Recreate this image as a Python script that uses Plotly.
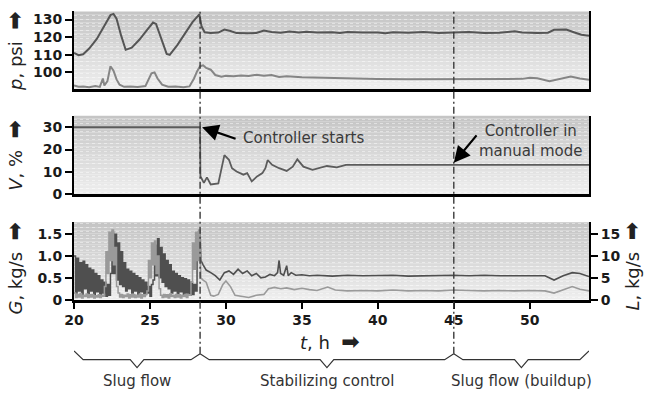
import plotly.graph_objects as go

# ---------------- data ----------------
# Riser pressures (psi)
t_p_up = [20.0, 20.3, 20.6, 21.0, 21.5, 22.0, 22.4, 22.6, 22.8, 23.1, 23.4, 23.8, 24.3, 24.8,
          25.2, 25.4, 25.7, 26.1, 26.3, 26.8, 27.3, 27.8, 28.25, 28.4, 28.6, 29.0, 29.5, 29.9,
          30.3, 30.7, 31.5, 32.0, 32.5, 33.0, 33.6, 34.2, 34.8, 35.3, 36.0, 37.0, 37.5, 38.0,
          39.0, 40.0, 40.5, 41.0, 42.0, 43.0, 44.0, 45.0, 46.0, 47.0, 48.0, 49.0, 49.5, 50.5,
          51.2, 51.6, 52.4, 52.9, 53.4, 53.9]
p_upper = [111.0, 109.8, 110.3, 113.5, 119.0, 126.5, 132.5, 133.2, 130.5, 121.0, 112.8, 114.0,
           118.5, 124.0, 128.3, 127.5, 120.0, 110.5, 110.0, 115.5, 122.0, 128.5, 133.0, 126.0,
           122.8, 122.3, 122.6, 124.3, 123.5, 122.3, 122.2, 122.4, 123.8, 122.9, 122.5, 123.2,
           122.6, 123.0, 122.6, 122.8, 122.3, 122.9, 122.6, 122.7, 122.2, 122.8, 122.5, 122.9,
           122.4, 122.5, 122.9, 122.4, 122.5, 123.3, 122.6, 122.4, 122.5, 124.2, 124.3, 122.8,
           121.4, 120.8]

t_p_lo = [20.0, 20.3, 20.6, 21.0, 21.4, 21.7, 21.9, 22.0, 22.2, 22.4, 22.6, 22.8, 23.0, 23.3,
          23.7, 24.2, 24.7, 24.9, 25.1, 25.3, 25.5, 25.8, 26.2, 26.7, 27.2, 27.6, 27.9, 28.1,
          28.3, 28.5, 28.7, 29.0, 29.3, 29.7, 30.0, 30.5, 31.0, 31.5, 32.0, 32.5, 33.0, 33.5,
          34.0, 35.0, 36.0, 37.0, 38.0, 40.0, 42.0, 45.0, 48.0, 49.5, 50.0, 50.5, 51.3, 52.0,
          52.7, 53.3, 53.9]
p_lower = [92.5, 91.8, 92.0, 91.6, 92.2, 91.7, 96.5, 92.5, 95.0, 103.5, 101.0, 96.0, 93.0, 91.8,
           92.0, 91.7, 92.2, 96.0, 99.5, 100.0, 96.5, 93.0, 91.8, 92.0, 91.6, 92.0, 96.5, 100.5,
           103.5, 104.0, 102.5, 101.5, 98.5, 97.5, 98.0, 97.8, 98.2, 98.0, 98.6, 98.1, 98.5, 97.4,
           97.8, 97.2, 97.0, 96.6, 96.3, 96.2, 96.1, 96.1, 96.1, 96.3, 96.9, 96.7, 95.0, 96.5,
           97.6, 96.5, 95.8]

# Choke valve opening (%)
t_v = [20.0, 28.3, 28.32, 28.55, 28.75, 29.0, 29.5, 29.75, 29.9, 30.2, 30.4, 30.7, 31.15, 31.4,
       31.7, 32.05, 32.4, 32.6, 32.75, 33.04, 33.5, 34.0, 34.4, 34.7, 35.1, 35.7, 36.2, 36.65,
       37.3, 37.9, 38.2, 53.9]
valve = [30.0, 30.0, 8.0, 5.0, 7.5, 4.3, 4.8, 13.0, 17.5, 15.4, 11.6, 10.1, 8.7, 9.4,
         5.7, 7.9, 9.4, 11.6, 15.3, 13.1, 11.6, 10.4, 12.3, 15.6, 12.3, 10.9, 11.9, 12.6,
         12.0, 13.1, 13.1, 13.1]

# Gas flow G (kg/s)
t_g = [20.0, 20.1, 20.2, 20.3, 20.4, 20.5, 20.6, 20.7, 20.8, 20.9,
       21.0, 21.1, 21.2, 21.3, 21.4, 21.5, 21.6, 21.7, 21.8, 21.9,
       22.0, 22.1, 22.2, 22.3, 22.4, 22.5, 22.6, 22.7, 22.8, 22.9,
       23.0, 23.1, 23.2, 23.3, 23.4, 23.5, 23.6, 23.7, 23.8, 23.9,
       24.0, 24.1, 24.2, 24.3, 24.4, 24.5, 24.6, 24.7, 24.8, 24.9,
       25.0, 25.1, 25.2, 25.3, 25.4, 25.5, 25.6, 25.7, 25.8, 25.9,
       26.0, 26.1, 26.2, 26.3, 26.4, 26.5, 26.6, 26.7, 26.8, 26.9,
       27.0, 27.1, 27.2, 27.3, 27.4, 27.5, 27.6, 27.7, 27.8, 27.9,
       28.0, 28.1, 28.2, 28.3, 28.35, 28.5, 28.7, 29.0, 29.3, 29.6,
       29.9, 30.2, 30.5, 30.8, 31.1, 31.4, 31.7, 32.0, 32.3, 32.6,
       32.9, 33.2, 33.4, 33.5, 33.6, 33.8, 34.0, 34.1, 34.3, 34.6,
       35.0, 35.5, 36.0, 37.0, 38.0, 39.0, 40.0, 41.0, 42.0, 43.0,
       44.0, 45.0, 46.0, 47.0, 48.0, 49.0, 50.0, 51.0, 51.6, 52.2,
       52.8, 53.3, 53.9]
gas_flow = [1.00, 0.15, 0.95, 0.20, 0.85, 0.10, 0.88, 0.25, 0.80, 0.12,
            0.72, 0.20, 0.68, 0.08, 0.60, 0.18, 0.55, 0.10, 0.45, 0.15,
            0.40, 0.08, 0.35, 0.10, 0.60, 1.55, 0.60, 1.50, 0.45, 1.30,
            0.35, 1.10, 0.30, 0.85, 0.20, 0.70, 0.25, 0.65, 0.15, 0.60,
            0.20, 0.55, 0.12, 0.50, 0.18, 0.45, 0.10, 0.40, 0.15, 0.30,
            0.08, 0.35, 0.45, 1.25, 0.55, 1.40, 0.50, 1.20, 0.40, 1.05,
            0.30, 0.90, 0.25, 0.80, 0.15, 0.65, 0.20, 0.60, 0.12, 0.55,
            0.18, 0.50, 0.10, 0.48, 0.15, 0.45, 0.10, 0.40, 0.12, 0.35,
            0.20, 1.00, 1.55, 1.60, 0.90, 0.80, 0.68, 0.62, 0.55, 0.45,
            0.62, 0.66, 0.58, 0.70, 0.60, 0.66, 0.55, 0.60, 0.50, 0.52,
            0.58, 0.55, 0.62, 0.90, 0.60, 0.56, 0.78, 0.55, 0.62, 0.56,
            0.57, 0.55, 0.56, 0.54, 0.56, 0.55, 0.55, 0.56, 0.54, 0.55,
            0.55, 0.56, 0.55, 0.56, 0.55, 0.55, 0.56, 0.55, 0.45, 0.55,
            0.62, 0.60, 0.53]

# Liquid flow L (kg/s)
t_l = [20.0, 20.1, 20.2, 20.3, 20.4, 20.5, 20.6, 20.7, 20.8, 20.9,
       21.0, 21.1, 21.2, 21.3, 21.4, 21.5, 21.6, 21.7, 21.8, 21.9,
       22.0, 22.1, 22.2, 22.3, 22.4, 22.5, 22.6, 22.7, 22.8, 22.9,
       23.0, 23.1, 23.2, 23.3, 23.4, 23.5, 23.6, 23.7, 23.8, 23.9,
       24.0, 24.1, 24.2, 24.3, 24.4, 24.5, 24.6, 24.7, 24.8, 24.9,
       25.0, 25.1, 25.2, 25.3, 25.4, 25.5, 25.6, 25.7, 25.8, 25.9,
       26.0, 26.1, 26.2, 26.3, 26.4, 26.5, 26.6, 26.7, 26.8, 26.9,
       27.0, 27.1, 27.2, 27.3, 27.4, 27.5, 27.6, 27.7, 27.8, 27.9,
       28.0, 28.1, 28.2, 28.3, 28.35, 28.5, 28.7, 29.0, 29.2, 29.5,
       29.8, 30.0, 30.3, 30.6, 31.0, 31.5, 32.0, 32.5, 32.8, 33.2,
       33.6, 34.0, 34.5, 35.0, 35.5, 36.0, 36.7, 37.2, 38.0, 39.0,
       40.0, 41.0, 42.0, 43.0, 44.0, 45.0, 46.0, 47.0, 48.0, 49.0,
       50.0, 51.0, 51.6, 52.2, 52.8, 53.3, 53.9]
liq_flow = [1.5, 0.5, 1.2, 0.6, 1.4, 0.4, 1.0, 0.7, 1.3, 0.5,
            1.1, 0.6, 1.2, 0.4, 0.9, 0.6, 1.1, 0.5, 1.0, 0.8,
            3.0, 11.0, 6.0, 15.5, 9.0, 16.0, 8.0, 12.0, 3.0, 1.5,
            0.6, 1.2, 0.5, 1.0, 0.7, 1.3, 0.4, 1.1, 0.6, 1.2,
            0.5, 1.0, 0.6, 1.3, 0.4, 1.1, 0.7, 1.2, 2.0, 9.0,
            5.0, 13.0, 8.0, 13.5, 6.0, 10.0, 2.5, 1.0, 0.5, 1.2,
            0.6, 1.1, 0.4, 1.3, 0.7, 1.0, 0.5, 1.2, 0.6, 1.1,
            0.4, 1.0, 0.7, 1.2, 0.5, 1.1, 1.0, 4.0, 13.0, 7.0,
            15.5, 9.0, 16.0, 12.0, 5.0, 4.5, 4.0, 1.0, 0.8, 1.2,
            3.5, 4.3, 3.0, 1.0, 0.8, 0.5, 1.0, 1.2, 2.5, 2.8,
            2.5, 2.7, 2.3, 2.6, 2.3, 2.1, 2.9, 2.2, 2.0, 2.1,
            2.0, 2.2, 2.0, 2.1, 2.0, 2.2, 2.1, 2.0, 2.1, 2.0,
            2.1, 2.0, 1.5, 2.3, 3.0, 2.4, 2.0]

x_ticks = [20, 25, 30, 35, 40, 45, 50]
p_ticks = [100, 110, 120, 130]
v_ticks = [0, 10, 20, 30]
g_ticks = [0, 0.5, 1.0, 1.5]
g_tick_text = ["0", "0.5", "1.0", "1.5"]
l_ticks = [0, 5, 10, 15]

phase_bounds = [20.0, 28.3, 45.0, 53.9]
phase_names = ["Slug flow", "Stabilizing control", "Slug flow (buildup)"]
event_times = [28.3, 45.0]

# ---------------- layout helpers ----------------
W, H = 645, 402
M_L, M_R = 74, 56
X_RANGE = [20, 53.9]
FONT = "DejaVu Sans"
DARK = "#4f4f4f"
LIGHT = "#9a9a9a"


def py(px):
    """Pixel row -> paper y (plot area spans the full figure height)."""
    return 1 - px / H


def px_x(px):
    """Pixel column -> paper x."""
    return (px - M_L) / (W - M_L - M_R)


def split_at(t, v, t_cut):
    """Split a series into the part up to t_cut and the part from t_cut on."""
    i = next(k for k, tk in enumerate(t) if tk >= t_cut)
    return (t[:i + 1], v[:i + 1]), (t[i:], v[i:])


dom_top = [py(90.7), py(11.7)]
dom_mid = [py(198.0), py(118.0)]
dom_bot = [py(305.7), py(226.7)]

fig = go.Figure()

fig.add_trace(go.Scatter(x=t_p_lo, y=p_lower, mode="lines", xaxis="x", yaxis="y",
                         line=dict(color="#858585", width=2)))
fig.add_trace(go.Scatter(x=t_p_up, y=p_upper, mode="lines", xaxis="x", yaxis="y",
                         line=dict(color="#555555", width=2)))
fig.add_trace(go.Scatter(x=t_v, y=valve, mode="lines", xaxis="x2", yaxis="y2",
                         line=dict(color="#5c5c5c", width=1.8)))

# flow rates: rapid slug-phase samples drawn as steps, controlled phase as lines
for t_s, v_s, yax, col in [(t_l, liq_flow, "y4", LIGHT), (t_g, gas_flow, "y3", DARK)]:
    (ta, va), (tb, vb) = split_at(t_s, v_s, event_times[0])
    fig.add_trace(go.Scatter(x=ta, y=va, mode="lines", xaxis="x3", yaxis=yax,
                             line=dict(color=col, width=1.5, shape="hv")))
    fig.add_trace(go.Scatter(x=tb, y=vb, mode="lines", xaxis="x3", yaxis=yax,
                             line=dict(color=col, width=1.6)))

tickfont = dict(family=FONT, size=14, color="#1a1a1a", weight="bold")
common_y = dict(showline=True, linecolor="black", linewidth=2, ticks="outside",
                ticklen=7, tickwidth=2, tickcolor="black", showgrid=False,
                zeroline=False, tickfont=tickfont, fixedrange=True)
common_x = dict(range=X_RANGE, showline=True, linecolor="black", linewidth=3,
                showgrid=False, zeroline=False, fixedrange=True)
dots = dict(showgrid=True, gridcolor="rgba(255,255,255,0.45)", griddash="dot",
            gridwidth=1, ticks="")

fig.update_layout(
    width=W, height=H,
    margin=dict(l=M_L, r=M_R, t=0, b=0),
    paper_bgcolor="white", plot_bgcolor="rgba(0,0,0,0)",
    showlegend=False,
    font=dict(family=FONT, color="#222"),
    xaxis=dict(common_x, anchor="y", showticklabels=False, ticks=""),
    xaxis2=dict(common_x, anchor="y2", showticklabels=False, ticks=""),
    xaxis3=dict(common_x, anchor="y3", tickvals=x_ticks, ticks="outside", ticklen=6,
                tickwidth=2, tickcolor="black", tickfont=tickfont),
    yaxis=dict(common_y, domain=dom_top, range=[90.6, 134.6], tickvals=p_ticks,
               mirror=True, anchor="x", minor=dict(dots, dtick=2.2, tick0=90.6)),
    yaxis2=dict(common_y, domain=dom_mid, range=[0, 35.2], tickvals=v_ticks,
                mirror=True, anchor="x2", minor=dict(dots, dtick=1.8, tick0=0.9)),
    yaxis3=dict(common_y, domain=dom_bot, range=[0, 1.78], tickvals=g_ticks,
                ticktext=g_tick_text, anchor="x3",
                minor=dict(dots, dtick=0.09, tick0=0.045)),
    yaxis4=dict(common_y, domain=dom_bot, range=[0, 17.8], tickvals=l_ticks,
                overlaying="y3", side="right", anchor="x3"),
)

# grey vertical gradient behind each panel
N_BANDS = 28
TOP_GREY, BOT_GREY = 0xC4, 0xEE
for yd in ["y domain", "y2 domain", "y3 domain"]:
    xd = {"y domain": "x domain", "y2 domain": "x2 domain", "y3 domain": "x3 domain"}[yd]
    for i in range(N_BANDS):
        f0, f1 = i / N_BANDS, (i + 1) / N_BANDS
        g = int(round(BOT_GREY + (TOP_GREY - BOT_GREY) * (f0 + f1) / 2))
        col = f"rgb({g},{g},{g})"
        fig.add_shape(type="rect", xref=xd, yref=yd, x0=0, x1=1, y0=f0, y1=f1,
                      fillcolor=col, line=dict(width=0), layer="below")

# event markers: dashed verticals through all panels down to the braces
for te in event_times:
    fig.add_shape(type="line", xref="x3", yref="paper", x0=te, x1=te,
                  y0=py(361), y1=py(10),
                  line=dict(color="#3a3a3a", width=1.4, dash="7px,3px,2px,3px"))

# braces under the time axis marking operating phases
Y_END, Y_JOIN, Y_BAR, Y_TIP = py(358), py(361), py(367), py(375)
DX_END, DX_TIP = 0.6, 0.45
for k, (a, b) in enumerate(zip(phase_bounds[:-1], phase_bounds[1:])):
    m = (a + b) / 2
    ya = Y_END if k == 0 else Y_JOIN
    yb = Y_END if k == len(phase_names) - 1 else Y_JOIN
    path = (f"M {a},{ya} L {a + DX_END},{Y_BAR} L {m - DX_TIP},{Y_BAR} L {m},{Y_TIP} "
            f"L {m + DX_TIP},{Y_BAR} L {b - DX_END},{Y_BAR} L {b},{yb}")
    fig.add_shape(type="path", xref="x3", yref="paper", path=path,
                  line=dict(color="#333", width=1.2))
    fig.add_annotation(x=m, y=py(389), xref="x3", yref="paper", text=phase_names[k],
                       showarrow=False, font=dict(family=FONT, size=15, color="#333"),
                       xanchor="center", yanchor="middle")

ARROW = '<span style="font-size:22px"><b>➡</b></span>'
title_font = dict(family=FONT, size=18, color="#222")
for txt, xp, yp in [
    (f"<i>p</i>, psi  {ARROW}", 15, 52),
    (f"<i>V</i>, %  {ARROW}", 15, 159),
    (f"<i>G</i>, kg/s  {ARROW}", 15, 274),
    (f"<i>L</i>, kg/s  {ARROW}", 632, 272),
]:
    fig.add_annotation(x=px_x(xp), y=py(yp), xref="paper", yref="paper", text=txt,
                       textangle=-90, showarrow=False, font=title_font,
                       xanchor="center", yanchor="middle")

fig.add_annotation(x=px_x(330), y=py(348), xref="paper", yref="paper",
                   text=f"<i>t</i>, h  {ARROW}", showarrow=False, font=title_font,
                   xanchor="center", yanchor="middle")

# controller annotations in the valve panel
ann_font = dict(family=FONT, size=15, color="#3a3a3a")
fig.add_annotation(x=28.43, y=30, xref="x2", yref="y2", text="", showarrow=True,
                   ax=35, ay=12, arrowhead=2, arrowsize=1.5, arrowwidth=2.2,
                   arrowcolor="black")
fig.add_annotation(x=31.02, y=25.1, xref="x2", yref="y2", text="Controller starts",
                   showarrow=False, font=ann_font, xanchor="left", yanchor="middle")
fig.add_annotation(x=45.0, y=14.0, xref="x2", yref="y2", text="", showarrow=True,
                   ax=24, ay=-29, arrowhead=2, arrowsize=1.5, arrowwidth=2.2,
                   arrowcolor="black")
fig.add_annotation(x=50.03, y=23.8, xref="x2", yref="y2",
                   text="Controller in<br>manual mode", showarrow=False, font=ann_font,
                   xanchor="center", yanchor="middle", align="center")

fig.write_html("out.html")
